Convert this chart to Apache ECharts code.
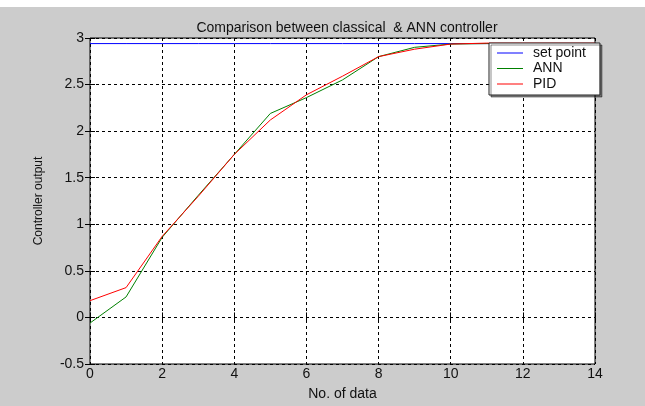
<!DOCTYPE html>
<html>
<head>
<meta charset="utf-8">
<script src="https://cdn.jsdelivr.net/npm/echarts@6/dist/echarts.min.js"></script>
<style>
html,body{margin:0;padding:0;background:#fff;}
#chart{width:645px;height:406px;}
</style>
</head>
<body>
<div id="chart"></div>
<script>
// ---- data ----
const xValues = [0,1,2,3,4,5,6,7,8,9,10,11,12,13,14];
const setPoint = [2.94,2.94,2.94,2.94,2.94,2.94,2.94,2.94,2.94,2.94,2.94,2.94,2.94,2.94,2.94];
const annValues = [-0.06,0.22,0.86,1.31,1.75,2.19,2.36,2.55,2.80,2.90,2.935,2.94,2.94,2.94,2.94];
const pidValues = [0.18,0.32,0.87,1.30,1.75,2.12,2.39,2.59,2.80,2.88,2.935,2.945,2.945,2.945,2.945];
const seriesNames = ['set point','ANN','PID'];
const titleText = 'Comparison between classical  & ANN controller';
const xAxisName = 'No. of data';
const yAxisName = 'Controller output';

const pair = (vals) => xValues.map((x, i) => [x, vals[i]]);

const chart = echarts.init(document.getElementById('chart'), null, {renderer: 'canvas'});
const font = 'Liberation Sans, Arial, sans-serif';
const gridLine = {show: true, lineStyle: {color: '#000', type: [3, 3], width: 1}};
const tick = {show: true, inside: true, length: 5, lineStyle: {color: '#000'}};
chart.setOption({
  animation: false,
  backgroundColor: '#cccccc',
  graphic: [{type: 'rect', shape: {x: 0, y: 0, width: 645, height: 7}, style: {fill: '#fff'}, silent: true}],
  title: {
    text: titleText, left: 342, top: 16, textAlign: 'center',
    textStyle: {fontFamily: font, fontSize: 14, fontWeight: 'normal', color: '#111'}
  },
  legend: {
    orient: 'vertical', left: 489, top: 43,
    data: seriesNames,
    icon: 'rect', itemWidth: 26, itemHeight: 1, itemGap: 1.5,
    padding: [3, 14, 4, 8],
    backgroundColor: '#fff', borderColor: '#222', borderWidth: 1,
    shadowColor: 'rgba(0,0,0,0.45)', shadowBlur: 0, shadowOffsetX: 2, shadowOffsetY: 2,
    textStyle: {fontFamily: font, fontSize: 14, color: '#111', lineHeight: 14, padding: [0, 0, 0, 5]}
  },
  grid: {left: 90, top: 38, right: 50, bottom: 39, show: true, backgroundColor: '#fff', borderColor: '#000', borderWidth: 1},
  xAxis: [{
    type: 'value', min: 0, max: 14, interval: 2, position: 'bottom',
    name: xAxisName, nameLocation: 'middle', nameGap: 23,
    nameTextStyle: {fontFamily: font, fontSize: 14, color: '#111'},
    axisLine: {show: false}, axisTick: tick,
    axisLabel: {fontFamily: font, fontSize: 14, color: '#111', margin: 3},
    splitLine: gridLine
  }, {
    type: 'value', min: 0, max: 14, interval: 2, position: 'top',
    axisLine: {show: false}, axisTick: tick,
    axisLabel: {show: false}, splitLine: {show: false}
  }],
  yAxis: [{
    type: 'value', min: -0.5, max: 3, interval: 0.5, position: 'left',
    name: yAxisName, nameLocation: 'middle', nameGap: 45, nameRotate: 90,
    nameTextStyle: {fontFamily: font, fontSize: 12, color: '#111'},
    axisLine: {show: false}, axisTick: tick,
    axisLabel: {fontFamily: font, fontSize: 14, color: '#111', margin: 6},
    splitLine: gridLine
  }, {
    type: 'value', min: -0.5, max: 3, interval: 0.5, position: 'right',
    axisLine: {show: false}, axisTick: tick,
    axisLabel: {show: false}, splitLine: {show: false}
  }],
  series: [
    {name: seriesNames[0], type: 'line', data: pair(setPoint), symbol: 'none', color: '#0000ff', lineStyle: {width: 1}},
    {name: seriesNames[1], type: 'line', data: pair(annValues), symbol: 'none', color: '#008000', lineStyle: {width: 1}},
    {name: seriesNames[2], type: 'line', data: pair(pidValues), symbol: 'none', color: '#ff0000', lineStyle: {width: 1}}
  ]
});
</script>
</body>
</html>
